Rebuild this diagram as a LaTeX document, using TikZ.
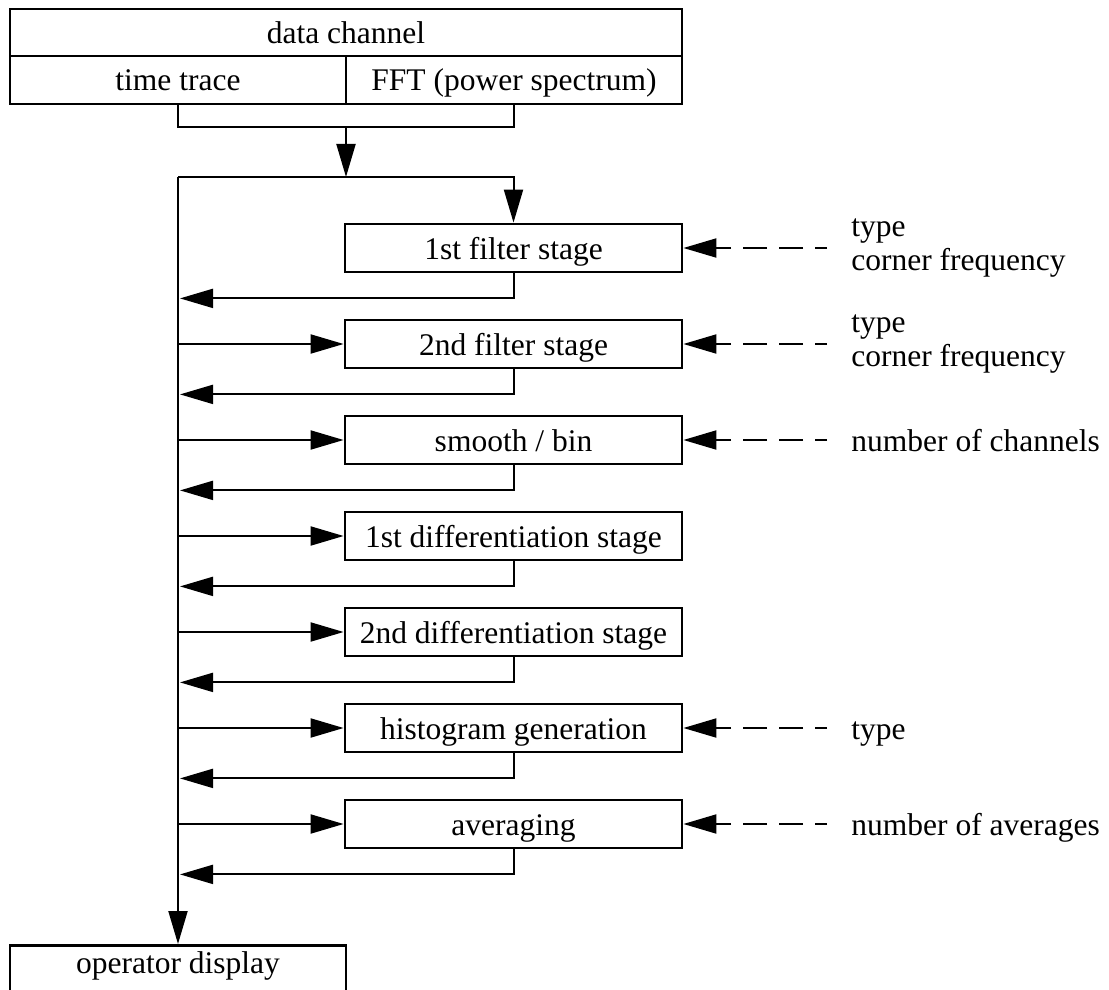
\documentclass[tikz,border=0pt]{standalone}
\usepackage{fontspec}
\setmainfont{Liberation Serif}
\usetikzlibrary{arrows.meta}
\begin{document}
\begin{tikzpicture}[x=0.5pt,y=-0.5pt,
  every node/.style={font=\fontsize{15.75}{16.7}\selectfont},
  box/.style={draw, line width=1.4pt, inner sep=0pt, text height=14.2pt, text depth=3.2pt},
  stagebox/.style={box, minimum width=168.5pt, minimum height=24pt},
  wire/.style={line width=1pt},
  conn/.style={line width=1pt, -{Triangle[length=16.5pt,width=9.5pt]}},
  feed/.style={conn, dash pattern=on 12pt off 6pt, dash phase=6pt},
  lbl/.style={inner sep=0pt, anchor=west, align=left},
  onelbl/.style={lbl, text height=14.2pt, text depth=3.2pt}]
\clip (0,0) rectangle (1109,990);

% source: data channel with its two views
\node[box, minimum width=336pt, minimum height=23.5pt] (chan) at (346,32.5) {data channel};
\node[box, minimum width=168pt, minimum height=24pt] (tt) at (178,80) {time trace};
\node[box, minimum width=168pt, minimum height=24pt] (fft) at (514,80) {FFT (power spectrum)};

% processing stages
\foreach \i/\t [count=\k from 0] in {1/1st filter stage,2/2nd filter stage,3/{smooth / bin},
    4/1st differentiation stage,5/2nd differentiation stage,6/histogram generation,7/averaging}
  \node[stagebox] (s\i) at (513.5,248+96*\k) {\t};

% display
\node[box, minimum width=168pt, minimum height=32pt, text depth=18.2pt, anchor=north]
  (op) at (178,944) {operator display};

% parameter labels
\node[lbl] (l1) at (851,248) {type\\corner frequency};
\node[lbl] (l2) at (851,344) {type\\corner frequency};
\node[onelbl] (l3) at (851,440) {number of channels};
\node[onelbl] (l6) at (851,728) {type};
\node[onelbl] (l7) at (851,824) {number of averages};

% merging the two views and the bus
\coordinate (merge) at (346,127);
\coordinate (split) at (346,177);
\coordinate (trunk) at (178,177);
\draw[wire] (tt.south) |- (merge) -| (fft.south);
\draw[conn] (merge) -- (split);
\draw[conn] (trunk) -| (s1.north);
\draw[conn] (trunk) -- (op.north);

% feeds into and returns from each stage
\foreach \i in {2,...,7}
  \draw[conn] (s\i.west -| trunk) -- (s\i.west);
\foreach \i in {1,...,7}
  \draw[conn, shorten >=1pt] (s\i.south) |- ([yshift=-12.5pt]s\i.south -| trunk);

% parameter inputs
\foreach \i in {1,2,3,6,7}
  \draw[feed] ([xshift=-12pt]l\i.west) -- (s\i.east);
\end{tikzpicture}
\end{document}
